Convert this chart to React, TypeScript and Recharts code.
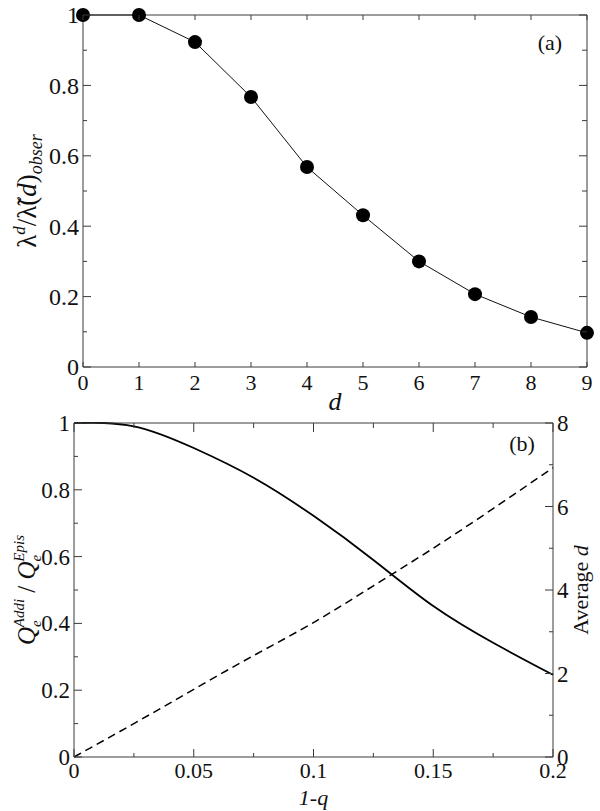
import React from 'react';
import { LineChart, Line, XAxis, YAxis } from 'recharts';

// ---------- data ----------
const dValues = [0, 1, 2, 3, 4, 5, 6, 7, 8, 9];
const lambdaRatio = [1, 1, 0.923, 0.767, 0.568, 0.431, 0.3, 0.207, 0.142, 0.097];
const topYTicks = [0, 0.1, 0.2, 0.3, 0.4, 0.5, 0.6, 0.7, 0.8, 0.9, 1];
const topYMajor = [0, 0.2, 0.4, 0.6, 0.8, 1];

const qValues = [0, 0.025, 0.05, 0.075, 0.1, 0.125, 0.15, 0.175, 0.2];
const addiOverEpis = [1, 0.99, 0.925, 0.836, 0.722, 0.59, 0.452, 0.342, 0.246];
const averageD = [0, 0.8, 1.62, 2.43, 3.22, 4.1, 5.0, 5.95, 6.93];
const qTicks = [0, 0.025, 0.05, 0.075, 0.1, 0.125, 0.15, 0.175, 0.2];
const qMajor = [0, 0.05, 0.1, 0.15, 0.2];
const leftTicks2 = [0, 0.1, 0.2, 0.3, 0.4, 0.5, 0.6, 0.7, 0.8, 0.9, 1];
const leftMajor2 = [0, 0.2, 0.4, 0.6, 0.8, 1];
const rightTicks2 = [0, 1, 2, 3, 4, 5, 6, 7, 8];
const rightMajor2 = [0, 2, 4, 6, 8];

const data1 = dValues.map((d, i) => ({ d, v: lambdaRatio[i] }));
const data2 = qValues.map((q, i) => ({ q, a: addiOverEpis[i], avg: averageD[i] }));

// ---------- styling helpers ----------
const FONT = "'Liberation Serif', 'Times New Roman', 'DejaVu Serif', serif";
const TXT: React.CSSProperties = { fontFamily: FONT };
const AX = '#3a3a3a';

type Side = 'left' | 'right' | 'top' | 'bottom';
function makeTick(side: Side, major: number[], majorLen: number, minorLen: number, labels: boolean, labelOffset = 0, fs = 22) {
  return (props: any) => {
    const { x, y, payload } = props;
    const v = payload.value;
    const isMajor = major.some((m) => Math.abs(m - v) < 1e-9);
    const len = isMajor ? majorLen : minorLen;
    let line: any = null;
    let text: any = null;
    const label = String(v);
    if (side === 'left') {
      line = <line x1={x} y1={y} x2={x + len} y2={y} stroke={AX} strokeWidth={1} />;
      if (labels && isMajor)
        text = <text x={x - 4} y={y} dy="0.35em" textAnchor="end" style={TXT} fontSize={fs} fill="#111">{label}</text>;
    } else if (side === 'right') {
      line = <line x1={x} y1={y} x2={x - len} y2={y} stroke={AX} strokeWidth={1} />;
      if (labels && isMajor)
        text = <text x={x + 4} y={y} dy="0.35em" textAnchor="start" style={TXT} fontSize={fs} fill="#111">{label}</text>;
    } else if (side === 'bottom') {
      line = <line x1={x} y1={y} x2={x} y2={y - len} stroke={AX} strokeWidth={1} />;
      if (labels && isMajor)
        text = <text x={x} y={y + labelOffset} textAnchor="middle" style={TXT} fontSize={fs} fill="#111">{label}</text>;
    } else {
      line = <line x1={x} y1={y} x2={x} y2={y + len} stroke={AX} strokeWidth={1} />;
    }
    return (
      <g>
        {line}
        {text}
      </g>
    );
  };
}

// ---------- labels ----------
const TopYLabel = (props: any) => {
  const vb = props.viewBox;
  const cx = vb.x + 36;
  const cy = vb.y + vb.height / 2;
  return (
    <text x={cx} y={cy} transform={`rotate(-90, ${cx}, ${cy})`} textAnchor="middle" style={TXT} fontSize={27} fill="#111">
      <tspan>λ</tspan>
      <tspan fontSize={17} fontStyle="italic" dy={-11}>d</tspan>
      <tspan dy={11}>/</tspan>
      <tspan>λ̃</tspan>
      <tspan>(</tspan>
      <tspan fontStyle="italic">d</tspan>
      <tspan>)</tspan>
      <tspan fontSize={18} fontStyle="italic" dy={6}>obser</tspan>
    </text>
  );
};

const TopXLabel = (props: any) => {
  const vb = props.viewBox;
  return (
    <text x={vb.x + vb.width / 2} y={vb.y + 43} textAnchor="middle" style={TXT} fontSize={26} fontStyle="italic" fill="#111">
      d
    </text>
  );
};

const PanelATag = (props: any) => {
  const vb = props.viewBox;
  return (
    <text x={vb.x + vb.width - 37} y={vb.y + vb.height + 35} textAnchor="middle" style={TXT} fontSize={22} fill="#111">
      (a)
    </text>
  );
};

const PanelBTag = (props: any) => {
  const vb = props.viewBox;
  return (
    <text x={vb.x + vb.width - 31} y={vb.y + vb.height + 28} textAnchor="middle" style={TXT} fontSize={22} fill="#111">
      (b)
    </text>
  );
};

const BottomYLabel = (props: any) => {
  const vb = props.viewBox;
  const cx = vb.x + 35;
  const cy = vb.y + vb.height / 2;
  return (
    <text x={cx} y={cy} transform={`rotate(-90, ${cx}, ${cy})`} textAnchor="middle" style={TXT} fontSize={25} fill="#111">
      <tspan fontStyle="italic">Q</tspan>
      <tspan fontSize={15} fontStyle="italic" dy={6}>e</tspan>
      <tspan fontSize={15} fontStyle="italic" dx={-7} dy={-17}>Addi</tspan>
      <tspan dy={11}> / </tspan>
      <tspan fontStyle="italic">Q</tspan>
      <tspan fontSize={15} fontStyle="italic" dy={6}>e</tspan>
      <tspan fontSize={15} fontStyle="italic" dx={-7} dy={-17}>Epis</tspan>
    </text>
  );
};

const BottomRightLabel = (props: any) => {
  const vb = props.viewBox;
  const cx = vb.x + 35;
  const cy = vb.y + vb.height / 2;
  return (
    <text x={cx} y={cy} transform={`rotate(-90, ${cx}, ${cy})`} textAnchor="middle" style={TXT} fontSize={22} fill="#111">
      <tspan>Average </tspan>
      <tspan fontStyle="italic">d</tspan>
    </text>
  );
};

const BottomXLabel = (props: any) => {
  const vb = props.viewBox;
  return (
    <text x={vb.x + vb.width / 2} y={vb.y + 48} textAnchor="middle" style={TXT} fontSize={22} fontStyle="italic" fill="#111">
      1-q
    </text>
  );
};

export default function App() {
  return (
    <div style={{ position: 'absolute', left: 0, top: 0, width: 600, height: 811, background: '#fff', fontFamily: FONT }}>
      <div style={{ position: 'absolute', left: 0, top: 0 }}>
        <LineChart width={600} height={416} data={data1} margin={{ top: 14, right: 12, bottom: 48, left: 0 }}>
          <XAxis
            xAxisId="b"
            dataKey="d"
            type="number"
            domain={[0, 9]}
            ticks={dValues}
            interval={0}
            height={1}
            tickSize={0}
            tickMargin={0}
            tickLine={false}
            axisLine={{ stroke: AX, strokeWidth: 1 }}
            tick={makeTick('bottom', dValues, 5, 5, true, 23, 22)}
            label={{ content: TopXLabel }}
          />
          <XAxis
            xAxisId="t"
            orientation="top"
            dataKey="d"
            type="number"
            domain={[0, 9]}
            ticks={dValues}
            interval={0}
            height={1}
            tickSize={0}
            tickMargin={0}
            tickLine={false}
            axisLine={{ stroke: AX, strokeWidth: 1 }}
            tick={makeTick('top', dValues, 5, 5, false)}
            allowDataOverflow
            label={{ content: PanelATag }}
          />
          <YAxis
            yAxisId="l"
            type="number"
            domain={[0, 1]}
            ticks={topYTicks}
            interval={0}
            width={83}
            tickSize={0}
            tickMargin={0}
            tickLine={false}
            axisLine={{ stroke: AX, strokeWidth: 1 }}
            tick={makeTick('left', topYMajor, 8, 4, true, 0, 24)}
            label={{ content: TopYLabel }}
          />
          <YAxis
            yAxisId="r"
            orientation="right"
            type="number"
            domain={[0, 1]}
            ticks={topYTicks}
            interval={0}
            width={1}
            tickSize={0}
            tickMargin={0}
            tickLine={false}
            axisLine={{ stroke: AX, strokeWidth: 1 }}
            tick={makeTick('right', topYMajor, 8, 5, false)}
            allowDataOverflow
          />
          <Line
            xAxisId="b"
            yAxisId="l"
            type="linear"
            dataKey="v"
            stroke="#111"
            strokeWidth={1}
            dot={{ r: 7, fill: '#000', stroke: '#000', strokeWidth: 0 }}
            activeDot={false}
            isAnimationActive={false}
          />
        </LineChart>
      </div>
      <div style={{ position: 'absolute', left: 0, top: 400 }}>
        <LineChart width={600} height={411} data={data2} margin={{ top: 22, right: 46, bottom: 53, left: 0 }}>
          <XAxis
            xAxisId="b"
            dataKey="q"
            type="number"
            domain={[0, 0.2]}
            ticks={qTicks}
            interval={0}
            height={1}
            tickSize={0}
            tickMargin={0}
            tickLine={false}
            axisLine={{ stroke: AX, strokeWidth: 1 }}
            tick={makeTick('bottom', qMajor, 8, 4, true, 21, 22)}
            label={{ content: BottomXLabel }}
          />
          <XAxis
            xAxisId="t"
            orientation="top"
            dataKey="q"
            type="number"
            domain={[0, 0.2]}
            ticks={qTicks}
            interval={0}
            height={1}
            tickSize={0}
            tickMargin={0}
            tickLine={false}
            axisLine={{ stroke: AX, strokeWidth: 1 }}
            tick={makeTick('top', qMajor, 9, 5, false)}
            allowDataOverflow
            label={{ content: PanelBTag }}
          />
          <YAxis
            yAxisId="l"
            type="number"
            domain={[0, 1]}
            ticks={leftTicks2}
            interval={0}
            width={74}
            tickSize={0}
            tickMargin={0}
            tickLine={false}
            axisLine={{ stroke: AX, strokeWidth: 1 }}
            tick={makeTick('left', leftMajor2, 8, 4, true, 0, 23)}
            label={{ content: BottomYLabel }}
          />
          <YAxis
            yAxisId="r"
            orientation="right"
            type="number"
            domain={[0, 8]}
            ticks={rightTicks2}
            interval={0}
            width={1}
            tickSize={0}
            tickMargin={0}
            tickLine={false}
            axisLine={{ stroke: AX, strokeWidth: 1 }}
            tick={makeTick('right', rightMajor2, 8, 4, true, 0, 23)}
            label={{ content: BottomRightLabel }}
          />
          <Line
            xAxisId="b"
            yAxisId="l"
            type="natural"
            dataKey="a"
            stroke="#000"
            strokeWidth={1.8}
            dot={false}
            activeDot={false}
            isAnimationActive={false}
          />
          <Line
            xAxisId="b"
            yAxisId="r"
            type="natural"
            dataKey="avg"
            stroke="#000"
            strokeWidth={1.5}
            strokeDasharray="8 5"
            dot={false}
            activeDot={false}
            isAnimationActive={false}
          />
        </LineChart>
      </div>
    </div>
  );
}
